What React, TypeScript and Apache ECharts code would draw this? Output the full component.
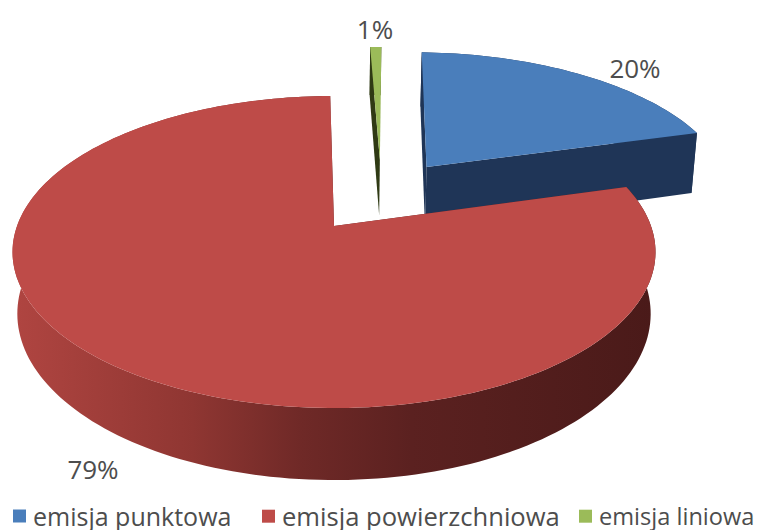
import React, { useEffect, useRef } from "react";
import * as echarts from "echarts";

const categories = ["emisja punktowa", "emisja powierzchniowa", "emisja liniowa"];
const shares = [20.2, 79.1, 0.7];

const FONT = "'Open Sans', Lato, sans-serif";
const TEXT = "#4d4d4d";
const ROTATION = -0.8; // degrees, clockwise from the far side of the pie
const CX = 334, CY = 226; // apex of the pie on screen
const A = 317, B = 151.7, K = 0.1667; // perspective projection
const BOTTOM_SHRINK = 0.985;

// Painted back to front; the angular order round the pie is liniowa, punktowa, powierzchniowa
const paintOrder = [2, 0, 1];
const looks = [
  { top: "#4a7ebb", wall: "#1f3557", depth: 67, dx: 0.312, dy: 0.415, label: [635, 68] },
  { top: "#be4b48", wall: "#5b2120", depth: 60, dx: 0, dy: 0, label: [93, 469] },
  { top: "#9bbb59", wall: "#2f3a14", depth: 60, dx: 0.156, dy: 0.47, label: [375, 29] },
];
const legendPlaces = [13, 262, 579];
const legendFontSizes = [25, 25.6, 23.6];

function ranges() {
  let a = ROTATION;
  const out: [number, number][] = [];
  for (const i of paintOrder) {
    const span = (shares[i] / 100) * 360;
    out[i] = [a, a + span];
    a += span;
  }
  return out;
}

function project(X: number, Y: number, lower: boolean, depth: number): number[] {
  const w = 1 + K * Y;
  const x = (A * X) / w;
  const y = (-B * Y) / w;
  if (!lower) return [CX + x, CY + y];
  return [CX + x * BOTTOM_SHRINK, CY + y + depth / w];
}

function renderSlice(index: number) {
  const [a0, a1] = ranges()[index];
  const look = looks[index];
  const point = (deg: number, r: number, lower: boolean) => {
    const t = (deg * Math.PI) / 180;
    return project(r * Math.sin(t) + look.dx, r * Math.cos(t) + look.dy, lower, look.depth);
  };
  const steps = Math.max(2, Math.ceil((a1 - a0) / 1.5));
  const arcTop: number[][] = [];
  const arcLow: number[][] = [];
  for (let s = 0; s <= steps; s++) {
    const d = a0 + ((a1 - a0) * s) / steps;
    arcTop.push(point(d, 1, false));
    arcLow.push(point(d, 1, true));
  }
  const apexTop = point(0, 0, false);
  const apexLow = point(0, 0, true);
  const rimFill: any =
    index === 1
      ? {
          type: "linear",
          x: 0,
          y: 0,
          x2: 1,
          y2: 0,
          colorStops: [
            { offset: 0, color: "#b04541" },
            { offset: 0.28, color: "#8f3632" },
            { offset: 0.45, color: "#6f2927" },
            { offset: 0.62, color: "#5b2120" },
            { offset: 1, color: "#4a1a19" },
          ],
        }
      : look.wall;
  const poly = (points: number[][], fill: any) => ({
    type: "polygon",
    shape: { points },
    style: { fill, stroke: "none" },
  });
  return {
    type: "group",
    children: [
      poly([...arcTop, ...[...arcLow].reverse()], rimFill),
      poly([apexTop, arcTop[0], arcLow[0], apexLow], look.wall),
      poly([apexTop, arcTop[steps], arcLow[steps], apexLow], look.wall),
      poly([apexTop, ...arcTop], look.top),
      {
        type: "text",
        style: {
          x: look.label[0],
          y: look.label[1],
          text: `${Math.round(shares[index])}%`,
          fill: TEXT,
          font: `26px ${FONT}`,
          align: "center",
          verticalAlign: "middle",
        },
      },
    ],
  };
}

export default function App() {
  const ref = useRef<HTMLDivElement>(null);
  useEffect(() => {
    const chart = echarts.init(ref.current!, undefined, { renderer: "svg" });
    chart.setOption({
      animation: false,
      backgroundColor: "#ffffff",
      legend: categories.map((name, i) => ({
        data: [{ name, itemStyle: { color: looks[i].top } }],
        left: legendPlaces[i],
        top: 516 - legendFontSizes[i] / 2,
        icon: "rect",
        itemWidth: 13,
        itemHeight: 13,
        padding: 0,
        selectedMode: false,
        textStyle: { fontFamily: FONT, fontSize: legendFontSizes[i], color: TEXT, padding: [0, 0, 0, 2] },
      })),
      series: [2, 0, 1].map((i) => ({
        type: "custom",
        name: categories[i],
        coordinateSystem: "none",
        silent: true,
        itemStyle: { color: looks[i].top },
        data: [[shares[i]]],
        renderItem: () => renderSlice(i),
      })),
    });
    return () => chart.dispose();
  }, []);
  return <div ref={ref} style={{ position: "absolute", left: 0, top: 0, width: 757, height: 530 }} />;
}
